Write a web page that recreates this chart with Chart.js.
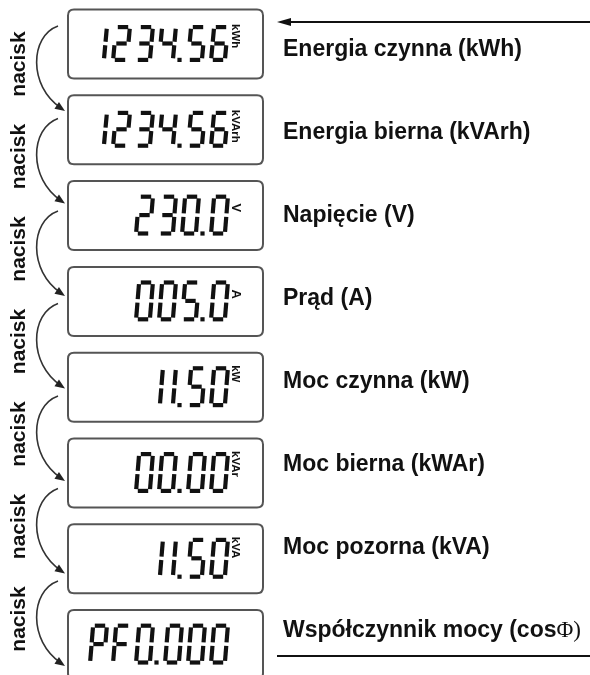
<!DOCTYPE html>
<html><head><meta charset="utf-8">
<script src="https://cdn.jsdelivr.net/npm/chart.js@4/dist/chart.umd.min.js"></script>
<style>html,body{margin:0;padding:0;background:#fff;}#wrap{width:590px;height:675px;}</style>
</head><body><div id="wrap"><canvas id="c" width="590" height="675"></canvas></div>
<script>
// ---- data ----
const categories = ["Energia czynna (kWh)", "Energia bierna (kVArh)", "Napięcie (V)", "Prąd (A)",
  "Moc czynna (kW)", "Moc bierna (kWAr)", "Moc pozorna (kVA)", "Współczynnik mocy (cos"];
const categorySymbols = ["", "", "", "", "", "", "", "Φ)"];
const displayValues = ["1234.56", "1234.56", "230.0", "005.0", "11.50", "00.00", "11.50", "PF0.000"];
const displayUnits = ["kWh", "kVArh", "V", "A", "kW", "kVAr", "kVA", ""];
const pressLabels = ["nacisk", "nacisk", "nacisk", "nacisk", "nacisk", "nacisk", "nacisk"];

// ---- drawing helpers ----
const SEG = {'0':'abcdef','1':'bc','2':'abged','3':'abgcd','4':'fgbc','5':'afgcd','6':'afgedc',
  '7':'abc','8':'abcdefg','9':'abcdfg','P':'abefg','F':'aefg'};

function drawDigit(ctx, x0, top, W, H, ch, slant, t) {
  const w = W - t, h = H - t;
  const ox = x0 + t/2, oy = top + t/2;
  const P = (px, py) => [ox + px + slant * (1 - py / h), oy + py];
  const m = h / 2, g = 1.7;
  const L = {a:[[g,0],[w-g,0]], b:[[w,g],[w,m-g]], c:[[w,m+g],[w,h-g]], d:[[g,h],[w-g,h]],
    e:[[0,m+g],[0,h-g]], f:[[0,g],[0,m-g]], g:[[g,m],[w-g,m]]};
  ctx.lineWidth = t; ctx.lineCap = 'butt';
  for (const s of SEG[ch] || '') {
    const [p, q] = L[s];
    const A = P(p[0], p[1]), B = P(q[0], q[1]);
    ctx.beginPath(); ctx.moveTo(A[0], A[1]); ctx.lineTo(B[0], B[1]); ctx.stroke();
  }
}

function drawLCD(ctx, str, right, cy, H) {
  const W = 18, gap = 5, oneW = 8, dotX = 6, t = 4.2, slant = 3;
  let total = 0;
  for (const ch of str) total += ch === '.' ? dotX : ((ch === '1' ? oneW : W) + gap);
  total -= gap;
  let cur = right - total;
  const top = cy - H / 2;
  ctx.strokeStyle = '#111'; ctx.fillStyle = '#111';
  for (const ch of str) {
    if (ch === '.') {
      const cx = cur - gap + (gap + dotX) / 2;
      ctx.fillRect(cx - t/2 - 1, top + H - t, t, t);
      cur += dotX;
    } else if (ch === '1') {
      drawDigit(ctx, cur + oneW - W, top, W, H, ch, slant, t);
      cur += oneW + gap;
    } else {
      drawDigit(ctx, cur, top, W, H, ch, slant, t);
      cur += W + gap;
    }
  }
  return top;
}

function roundRect(ctx, x, y, w, h, r) {
  ctx.beginPath();
  ctx.moveTo(x + r, y); ctx.lineTo(x + w - r, y); ctx.quadraticCurveTo(x + w, y, x + w, y + r);
  ctx.lineTo(x + w, y + h - r); ctx.quadraticCurveTo(x + w, y + h, x + w - r, y + h);
  ctx.lineTo(x + r, y + h); ctx.quadraticCurveTo(x, y + h, x, y + h - r);
  ctx.lineTo(x, y + r); ctx.quadraticCurveTo(x, y, x + r, y); ctx.closePath();
}

function arrowHead(ctx, x, y, dx, dy, len, half) {
  const n = Math.hypot(dx, dy); dx /= n; dy /= n;
  ctx.beginPath();
  ctx.moveTo(x, y);
  ctx.lineTo(x - dx*len - dy*half, y - dy*len + dx*half);
  ctx.lineTo(x - dx*len + dy*half, y - dy*len - dx*half);
  ctx.closePath(); ctx.fill();
}

const diagramPlugin = {
  id: 'diagram',
  afterDatasetsDraw(chart) {
    const ctx = chart.ctx;
    const boxes = chart.getDatasetMeta(0).data;
    const labels = chart.getDatasetMeta(1).data;
    const presses = chart.getDatasetMeta(2).data;
    ctx.save();
    // display boxes
    boxes.forEach((pt, i) => {
      const cy = pt.y;
      ctx.strokeStyle = '#555'; ctx.lineWidth = 2;
      roundRect(ctx, 68, cy - 34.5, 195, 69, 6); ctx.stroke();
      const H = i < 2 ? 37 : 41;
      const right = 227;
      const top = drawLCD(ctx, displayValues[i], right, cy - 0.5, H);
      const u = displayUnits[i];
      if (u) {
        ctx.save();
        ctx.translate(right + 5, top + (u.length === 1 ? 9 : -1));
        ctx.rotate(Math.PI / 2);
        ctx.fillStyle = '#111';
        ctx.font = (u.length === 1 ? 'bold 13px' : 'bold 11.5px') + ' "Liberation Sans", Arial, sans-serif';
        ctx.textBaseline = 'alphabetic'; ctx.textAlign = 'left';
        ctx.fillText(u, 0, 0);
        ctx.restore();
      }
    });
    // category labels
    labels.forEach((pt, i) => {
      ctx.fillStyle = '#111';
      ctx.font = 'bold 23px "Liberation Sans", Arial, sans-serif';
      ctx.textBaseline = 'alphabetic'; ctx.textAlign = 'left';
      ctx.fillText(categories[i], 283, pt.y);
      if (categorySymbols[i]) {
        const w = ctx.measureText(categories[i]).width;
        ctx.font = '23px "Liberation Serif", "Times New Roman", serif';
        ctx.fillText(categorySymbols[i], 283 + w, pt.y);
      }
    });
    // top incoming arrow and bottom rule
    ctx.strokeStyle = '#111'; ctx.fillStyle = '#111'; ctx.lineWidth = 2;
    const firstY = labels[0].y - 34;
    ctx.beginPath(); ctx.moveTo(590, firstY); ctx.lineTo(288, firstY); ctx.stroke();
    arrowHead(ctx, 277, firstY, -1, 0, 14, 4);
    const lastY = labels[labels.length - 1].y + 19;
    ctx.beginPath(); ctx.moveTo(277, lastY); ctx.lineTo(590, lastY); ctx.stroke();
    // press arrows
    presses.forEach((pt, k) => {
      const c = pt.y;
      ctx.save();
      ctx.translate(25, c);
      ctx.rotate(-Math.PI / 2);
      ctx.fillStyle = '#111';
      ctx.font = 'bold 21px "Liberation Sans", Arial, sans-serif';
      ctx.textAlign = 'center'; ctx.textBaseline = 'alphabetic';
      ctx.fillText(pressLabels[k], 0, 0);
      ctx.restore();
      const p0 = [58, c - 38], p1 = [30, c - 28], p2 = [28, c + 22], p3 = [65, c + 47];
      ctx.strokeStyle = '#333'; ctx.fillStyle = '#222'; ctx.lineWidth = 1.6;
      ctx.beginPath(); ctx.moveTo(p0[0], p0[1]);
      ctx.bezierCurveTo(p1[0], p1[1], p2[0], p2[1], p3[0] - 4, p3[1] - 3); ctx.stroke();
      arrowHead(ctx, p3[0], p3[1], p3[0] - p2[0], p3[1] - p2[1], 10, 4);
    });
    ctx.restore();
  }
};

new Chart(document.getElementById('c'), {
  type: 'scatter',
  data: {
    datasets: [
      { label: 'display', data: displayValues.map((v, i) => ({ x: 0.3, y: i })), yAxisID: 'yBox', pointRadius: 0 },
      { label: 'label', data: categories.map((v, i) => ({ x: 0.7, y: i })), yAxisID: 'yLab', pointRadius: 0 },
      { label: 'press', data: pressLabels.map((v, i) => ({ x: 0.05, y: i })), yAxisID: 'yArr', pointRadius: 0 }
    ]
  },
  options: {
    responsive: false, animation: false, devicePixelRatio: 1,
    layout: { padding: 0 },
    plugins: { legend: { display: false }, tooltip: { enabled: false } },
    scales: {
      x: { type: 'linear', display: false, min: 0, max: 1 },
      yBox: { axis: 'y', type: 'linear', display: false, reverse: true, min: -0.5128, max: 7.3543 },
      yLab: { axis: 'y', type: 'linear', display: false, reverse: true, min: -0.6747, max: 7.4578 },
      yArr: { axis: 'y', type: 'linear', display: false, reverse: true, min: -0.6919, max: 6.6054 }
    }
  },
  plugins: [diagramPlugin]
});
</script></body></html>
